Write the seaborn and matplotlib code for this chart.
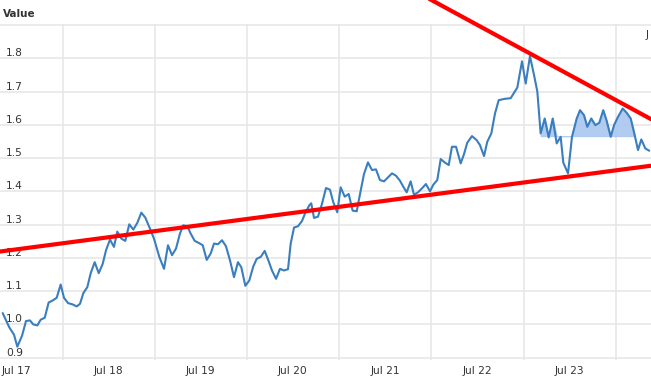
import numpy as np
import pandas as pd
import matplotlib
matplotlib.use("Agg")
import matplotlib.pyplot as plt
import matplotlib.dates as mdates
import seaborn as sns

# ---- data (dates as decimal years) ----
years = [
    2017.349, 2017.421, 2017.472, 2017.508, 2017.559, 2017.602, 2017.645, 2017.681, 2017.725, 2017.761,
    2017.805, 2017.848, 2017.892, 2017.935, 2017.978, 2018.014, 2018.058, 2018.109, 2018.152, 2018.188,
    2018.224, 2018.267, 2018.304, 2018.347, 2018.391, 2018.434, 2018.470, 2018.513, 2018.556, 2018.592,
    2018.636, 2018.679, 2018.722, 2018.766, 2018.809, 2018.853, 2018.896, 2018.939, 2018.990, 2019.048,
    2019.099, 2019.142, 2019.186, 2019.229, 2019.272, 2019.308, 2019.352, 2019.388, 2019.432, 2019.475,
    2019.519, 2019.562, 2019.605, 2019.641, 2019.684, 2019.728, 2019.771, 2019.815, 2019.858, 2019.901,
    2019.937, 2019.981, 2020.024, 2020.067, 2020.104, 2020.148, 2020.191, 2020.234, 2020.270, 2020.314,
    2020.357, 2020.400, 2020.444, 2020.473, 2020.509, 2020.552, 2020.596, 2020.631, 2020.675,
    2020.696, 2020.726, 2020.769, 2020.812, 2020.856, 2020.899, 2020.935, 2020.978, 2021.015, 2021.059,
    2021.102, 2021.145, 2021.189, 2021.225, 2021.268, 2021.311, 2021.355, 2021.398, 2021.441, 2021.485,
    2021.528, 2021.572, 2021.615, 2021.658, 2021.694, 2021.731, 2021.774, 2021.810, 2021.854, 2021.897,
    2021.940, 2021.984, 2022.020, 2022.063, 2022.100, 2022.143, 2022.187, 2022.222, 2022.266,
    2022.317, 2022.353, 2022.388, 2022.439, 2022.490, 2022.526, 2022.570, 2022.605, 2022.649, 2022.689,
    2022.729, 2022.761, 2022.794, 2022.827, 2022.859, 2022.895, 2022.931, 2022.982, 2023.022, 2023.068,
    2023.112, 2023.148,
    2023.184, 2023.228, 2023.271, 2023.315, 2023.358, 2023.401, 2023.430, 2023.481, 2023.524, 2023.575,
    2023.611, 2023.654, 2023.690, 2023.733, 2023.777, 2023.820, 2023.863, 2023.900, 2023.944, 2023.980,
    2024.023, 2024.074, 2024.117, 2024.161, 2024.204, 2024.240, 2024.276, 2024.319, 2024.362,
]
values = [
    1.034, 0.991, 0.969, 0.933, 0.966, 1.010, 1.012, 1.000, 0.997, 1.014,
    1.020, 1.066, 1.072, 1.080, 1.120, 1.080, 1.064, 1.060, 1.054, 1.062,
    1.094, 1.112, 1.154, 1.187, 1.154, 1.182, 1.223, 1.255, 1.233, 1.279,
    1.258, 1.251, 1.301, 1.285, 1.305, 1.336, 1.321, 1.293, 1.258, 1.203,
    1.167, 1.238, 1.208, 1.228, 1.273, 1.298, 1.295, 1.273, 1.251, 1.245,
    1.238, 1.194, 1.213, 1.243, 1.241, 1.253, 1.235, 1.192, 1.142, 1.187,
    1.172, 1.116, 1.132, 1.174, 1.197, 1.203, 1.221, 1.190, 1.162, 1.137,
    1.167, 1.162, 1.166, 1.243, 1.291, 1.295, 1.311, 1.335, 1.358,
    1.364, 1.320, 1.324, 1.362, 1.410, 1.405, 1.367, 1.337, 1.412, 1.384,
    1.392, 1.342, 1.340, 1.392, 1.452, 1.487, 1.464, 1.466, 1.434, 1.430,
    1.442, 1.454, 1.447, 1.432, 1.414, 1.397, 1.430, 1.390, 1.397, 1.409,
    1.422, 1.400, 1.420, 1.434, 1.497, 1.487, 1.479, 1.534, 1.534,
    1.484, 1.512, 1.546, 1.566, 1.554, 1.539, 1.506, 1.549, 1.574, 1.634,
    1.674, 1.676, 1.678, 1.679, 1.680, 1.696, 1.712, 1.791, 1.724, 1.806,
    1.750, 1.700,
    1.574, 1.619, 1.562, 1.619, 1.544, 1.564, 1.486, 1.454, 1.564, 1.619,
    1.644, 1.629, 1.594, 1.619, 1.599, 1.606, 1.644, 1.612, 1.564, 1.599,
    1.624, 1.649, 1.636, 1.619, 1.569, 1.524, 1.556, 1.529, 1.522,
]

# trend lines
upper_years = [2021.900, 2024.381]
upper_values = [1.990, 1.617]
lower_years = [2017.320, 2024.381]
lower_values = [1.219, 1.477]

# shaded pattern zone
fill_years = [2023.18, 2024.21]
fill_level = 1.566

x_range_years = [2017.320, 2024.381]
y_ticks = [0.9, 1.0, 1.1, 1.2, 1.3, 1.4, 1.5, 1.6, 1.7, 1.8, 1.9]
y_tick_labels = ["0.9", "1.0", "1.1", "1.2", "1.3", "1.4", "1.5", "1.6", "1.7", "1.8", ""]


def to_dt(yrs):
    yrs = np.asarray(yrs, dtype=float)
    base = pd.Timestamp("2017-01-01")
    return base + pd.to_timedelta((yrs - 2017.0) * 365.25, unit="D")


df = pd.DataFrame({"date": to_dt(years), "value": values})

sns.set_theme(style="white")
plt.rcParams["font.family"] = ["DejaVu Sans"]

W, H = 651, 382
fig = plt.figure(figsize=(W / 100, H / 100), dpi=100)
ax = fig.add_axes([0, 22 / H, 1, (360 - 24) / H])

grid_col = "#e6e6e6"
text_col = "#333333"

# line
sns.lineplot(data=df, x="date", y="value", ax=ax, color="#3a7ebf", linewidth=1.5, zorder=3)

# shaded area above level within the zone
mask = (np.array(years) >= fill_years[0]) & (np.array(years) <= fill_years[1])
fx = df["date"][mask]
fy = np.array(values)[mask]
ax.fill_between(fx, fill_level, np.maximum(fy, fill_level), color="#a9c7ef", alpha=0.9,
                linewidth=0.8, edgecolor="#a9c7ef", zorder=2)

# trend lines
ax.plot(to_dt(upper_years), upper_values, color="#ff0000", linewidth=3, clip_on=False, zorder=4)
ax.plot(to_dt(lower_years), lower_values, color="#ff0000", linewidth=3, clip_on=False, zorder=4)

ax.set_xlim(to_dt(x_range_years))
ax.set_ylim(0.893, 1.903)

ax.set_yticks(y_ticks)
ax.set_yticklabels(y_tick_labels)
ax.xaxis.set_major_locator(mdates.MonthLocator(bymonth=7))
ax.xaxis.set_major_formatter(mdates.DateFormatter("%b %y"))
ax.xaxis.set_minor_locator(mdates.YearLocator())

ax.grid(False)
ax.grid(True, which="minor", axis="x", color=grid_col, linewidth=1.1, zorder=0)
ax.grid(True, which="major", axis="y", color=grid_col, linewidth=1.1, zorder=0)
ax.set_axisbelow(True)

for s in ax.spines.values():
    s.set_visible(False)

ax.tick_params(axis="y", length=0, pad=-4.3, labelsize=7.7, labelcolor=text_col)
for lab in ax.get_yticklabels():
    lab.set_horizontalalignment("left")
    lab.set_verticalalignment("bottom")
ax.tick_params(axis="x", which="both", length=0, pad=4.5, labelsize=7.7, labelcolor=text_col)
ax.set_xlabel("")
ax.set_ylabel("")

fig.text(3 / W, 1 - 17 / H, "Value", fontsize=7.5, fontweight="bold", color=text_col, va="baseline")
fig.text(646 / W, 1 - 37.5 / H, "J", fontsize=7.7, color=text_col, va="baseline")

fig.savefig("out.png", dpi=100)
